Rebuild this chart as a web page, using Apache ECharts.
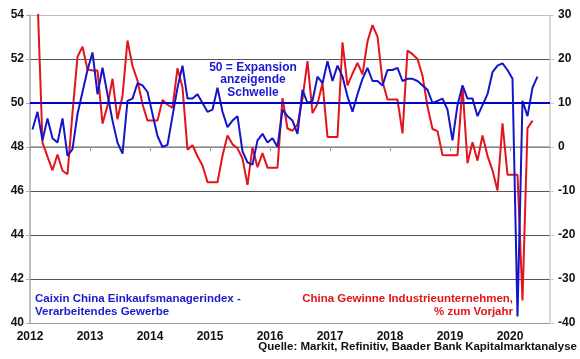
<!DOCTYPE html>
<html>
<head>
<meta charset="utf-8">
<script src="https://cdn.jsdelivr.net/npm/echarts@6/dist/echarts.min.js"></script>
<style>
html,body{margin:0;padding:0;background:#fff;}
#chart{width:580px;height:359px;}
</style>
</head>
<body>
<div id="chart"></div>
<script>
// Monthly data, Jan 2012 .. Jun 2020
const years = ['2012','2013','2014','2015','2016','2017','2018','2019','2020'];
const leftTicks = [40, 42, 44, 46, 48, 50, 52, 54];
const rightTicks = [-40, -30, -20, -10, 0, 10, 20, 30];

// Caixin China Einkaufsmanagerindex - Verarbeitendes Gewerbe (left axis)
const pmiCaixin = [
  48.8, 49.6, 48.3, 49.3, 48.4, 48.2, 49.3, 47.6, 47.9, 49.5, 50.5, 51.5,
  52.3, 50.4, 51.6, 50.4, 49.2, 48.2, 47.7, 50.1, 50.2, 50.9, 50.8, 50.5,
  49.5, 48.5, 48.0, 48.1, 49.4, 50.7, 51.7, 50.2, 50.2, 50.4, 50.0, 49.6,
  49.7, 50.7, 49.6, 48.9, 49.2, 49.4, 47.8, 47.3, 47.2, 48.3, 48.6, 48.2,
  48.4, 48.0, 49.7, 49.4, 49.2, 48.6, 50.6, 50.0, 50.1, 51.2, 50.9, 51.9,
  51.0, 51.7, 51.2, 50.3, 49.6, 50.4, 51.1, 51.6, 51.0, 51.0, 50.8, 51.5,
  51.5, 51.6, 51.0, 51.1, 51.1, 51.0, 50.8, 50.6, 50.0, 50.1, 50.2, 49.7,
  48.3, 49.9, 50.8, 50.2, 50.2, 49.4, 49.9, 50.4, 51.4, 51.7, 51.8, 51.5,
  51.1, 40.3, 50.1, 49.4, 50.7, 51.2
];

// China Gewinne Industrieunternehmen, % zum Vorjahr (right axis)
const profitsYoY = [
  34.0, 34.0, 1.0, -2.2, -5.3, -1.7, -5.4, -6.2, 7.8, 20.5, 22.8, 17.6,
  17.4, 17.4, 5.3, 9.4, 15.5, 6.3, 11.6, 24.2, 18.4, 15.1, 9.7, 6.0,
  6.0, 6.0, 10.7, 9.6, 8.9, 17.9, 13.5, -0.6, 0.4, -2.1, -4.2, -8.0,
  -8.0, -8.0, -2.0, 2.6, 0.6, -0.3, -2.6, -8.6, -0.1, -4.6, -1.4, -4.7,
  -4.7, -4.7, 11.1, 4.2, 3.7, 5.1, 11.0, 19.5, 7.7, 9.8, 14.5, 2.3,
  2.3, 2.3, 23.8, 14.0, 16.7, 19.1, 16.5, 24.0, 27.7, 25.1, 14.9, 10.8,
  10.8, 10.8, 3.1, 21.9, 21.1, 20.0, 16.2, 9.2, 4.1, 3.6, -1.8, -1.9,
  -1.9, -1.9, 13.9, -3.7, 1.1, -3.1, 2.6, -2.0, -5.3, -9.9, 5.4, -6.3,
  -6.3, -6.3, -34.9, 4.3, 6.0
];

const threshold = 50;

const BLUE = '#1414c8';
const RED = '#e3141c';
const FONT = 'Liberation Sans, Arial, sans-serif';

const chart = echarts.init(document.getElementById('chart'));
const monthTicks = years.map((y, k) => k * 12);

chart.setOption({
  animation: false,
  backgroundColor: '#fff',
  grid: { left: 30, right: 30, top: 15, bottom: 36, containLabel: false },
  xAxis: {
    type: 'value', min: 0, max: 104, interval: 12,
    axisLine: { show: true, lineStyle: { color: '#999', width: 1.5 } },
    axisTick: { show: true, length: 4, lineStyle: { color: '#999' }, customValues: monthTicks },
    axisLabel: {
      customValues: monthTicks, margin: 8,
      formatter: v => years[Math.round(v / 12)] || '',
      color: '#111', fontWeight: 'bold', fontSize: 12, fontFamily: FONT
    },
    splitLine: { show: false }
  },
  yAxis: [
    {
      type: 'value', min: 40, max: 54, interval: 2, position: 'left',
      axisLine: { show: true, lineStyle: { color: '#aaa', width: 1.5 } },
      axisTick: { show: true, length: 4, lineStyle: { color: '#aaa' } },
      axisLabel: { margin: 6, color: '#111', fontWeight: 'bold', fontSize: 12, fontFamily: FONT,
        formatter: v => leftTicks.includes(v) ? String(v) : '' },
      splitLine: { show: true, lineStyle: { color: ['#999', '#555', '#555', '#555', '#555', '#555', '#555', '#bbb'], width: 1 } }
    },
    {
      type: 'value', min: -40, max: 30, interval: 10, position: 'right',
      axisLine: { show: true, lineStyle: { color: '#ccc', width: 1.5 } },
      axisTick: { show: true, length: 4, lineStyle: { color: '#ccc' } },
      axisLabel: { margin: 8, color: '#111', fontWeight: 'bold', fontSize: 12, fontFamily: FONT,
        formatter: v => rightTicks.includes(v) ? String(v) : '' },
      splitLine: { show: false }
    }
  ],
  series: [
    {
      name: 'Caixin PMI', type: 'line', yAxisIndex: 0,
      data: pmiCaixin.map((v, i) => [i + 0.5, v]),
      showSymbol: false, symbol: 'none',
      lineStyle: { color: BLUE, width: 2 },
      z: 3,
      markLine: {
        silent: true, symbol: 'none', label: { show: false },
        lineStyle: { color: '#0000cc', width: 2, type: 'solid' },
        data: [{ yAxis: threshold }]
      }
    },
    {
      name: 'Gewinne', type: 'line', yAxisIndex: 1, clip: true,
      data: profitsYoY.map((v, i) => [i + 0.5, v]),
      showSymbol: false, symbol: 'none',
      lineStyle: { color: RED, width: 2 },
      z: 2
    }
  ],
  graphic: [
    { type: 'text', x: 253, y: 61, style: {
        text: '50 = Expansion\nanzeigende\nSchwelle', fill: '#1a1ad0', font: 'bold 12px ' + FONT,
        align: 'center', verticalAlign: 'top', lineHeight: 12.5 }, z: 10 },
    { type: 'text', x: 35, y: 292, style: {
        text: 'Caixin China Einkaufsmanagerindex -\nVerarbeitendes Gewerbe', fill: '#1a1ad0', font: 'bold 11.5px ' + FONT,
        align: 'left', verticalAlign: 'top', lineHeight: 13 }, z: 10 },
    { type: 'text', x: 513, y: 292, style: {
        text: 'China Gewinne Industrieunternehmen,\n% zum Vorjahr', fill: '#e3141c', font: 'bold 11.5px ' + FONT,
        align: 'right', verticalAlign: 'top', lineHeight: 13 }, z: 10 },
    { type: 'text', x: 577, y: 341, style: {
        text: 'Quelle: Markit, Refinitiv, Baader Bank Kapitalmarktanalyse', fill: '#111', font: 'bold 11.5px ' + FONT,
        align: 'right', verticalAlign: 'top' }, z: 10 }
  ]
});
</script>
</body>
</html>
